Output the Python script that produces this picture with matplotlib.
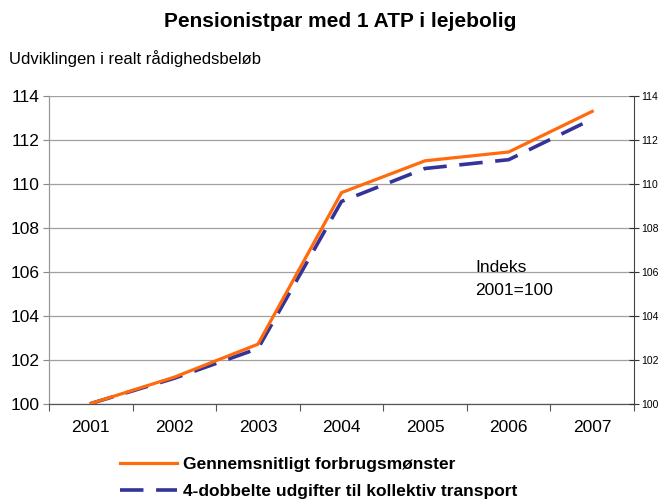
import numpy as np
import matplotlib
matplotlib.use("Agg")
from matplotlib import pyplot as plt

plt.rcParams['font.family'] = ['Liberation Sans', 'DejaVu Sans']

years = ['2001', '2002', '2003', '2004', '2005', '2006', '2007']
avg_pattern = [100.0, 101.2, 102.7, 109.6, 111.05, 111.45, 113.3]
transport_x4 = [100.0, 101.15, 102.5, 109.2, 110.7, 111.1, 112.95]

orange = '#ff6a0d'
navy = '#33339a'
grid_grey = '#a0a0a0'

fig = plt.figure(figsize=(6.63, 5.01), dpi=100)
ax = fig.add_axes([0.0739, 0.1946, 0.8824, 0.6138])

x = np.arange(len(years))
line1, = ax.plot(x, avg_pattern, color=orange, lw=2.3, solid_joinstyle='miter',
                 label='Gennemsnitligt forbrugsmønster', zorder=4)
line2, = ax.plot(x, transport_x4, color=navy, lw=2.6, dashes=(6.5, 3.5),
                 label='4-dobbelte udgifter til kollektiv transport', zorder=3)

ax.set_xlim(-0.5, len(years) - 0.5)
ax.set_ylim(100, 114)
ax.set_yticks(np.arange(100, 115, 2))
ax.yaxis.grid(True, color=grid_grey, lw=0.9)
ax.set_axisbelow(True)

# category boundaries get the tick marks, labels sit in the middle
ax.set_xticks(np.arange(-0.5, len(years), 1.0))
ax.set_xticklabels([])
ax.set_xticks(x, minor=True)
ax.set_xticklabels(years, minor=True, fontsize=12.5)
ax.tick_params(axis='x', which='major', direction='out', length=5, color='#555555')
ax.tick_params(axis='x', which='minor', length=0, pad=12)
ax.tick_params(axis='y', direction='out', length=4, color='#888888', labelsize=12.5, pad=3)

ax.spines['top'].set_visible(False)
ax.spines['left'].set_color('#999999')
ax.spines['bottom'].set_color('#555555')
ax.spines['right'].set_visible(False)
for side in ['left', 'bottom']:
    ax.spines[side].set_linewidth(0.9)

ax2 = ax.twinx()
ax2.set_ylim(100, 114)
ax2.set_yticks(np.arange(100, 115, 2))
ax2.tick_params(axis='y', direction='inout', length=7, color='#333333', labelsize=7.5, pad=2)
ax2.spines['top'].set_visible(False)
ax2.spines['left'].set_visible(False)
ax2.spines['bottom'].set_visible(False)
ax2.spines['right'].set_color('#444444')

fig.text(0.513, 0.958, 'Pensionistpar med 1 ATP i lejebolig', ha='center', va='center',
         fontsize=15, fontweight='bold')
fig.text(0.014, 0.884, 'Udviklingen i realt rådighedsbeløb', ha='left', va='center', fontsize=12)
ax.text(0.728, 0.405, 'Indeks\n2001=100', transform=ax.transAxes, ha='left', va='center',
        fontsize=12.5, linespacing=1.65)

leg = fig.legend(handles=[line1, line2], loc='upper left', bbox_to_anchor=(0.168, 0.106),
                 frameon=False, prop={'weight': 'bold', 'size': 12.5}, handlelength=3.3,
                 labelspacing=0.7, borderpad=0, handletextpad=0.3)

fig.savefig('out.png', dpi=100)
